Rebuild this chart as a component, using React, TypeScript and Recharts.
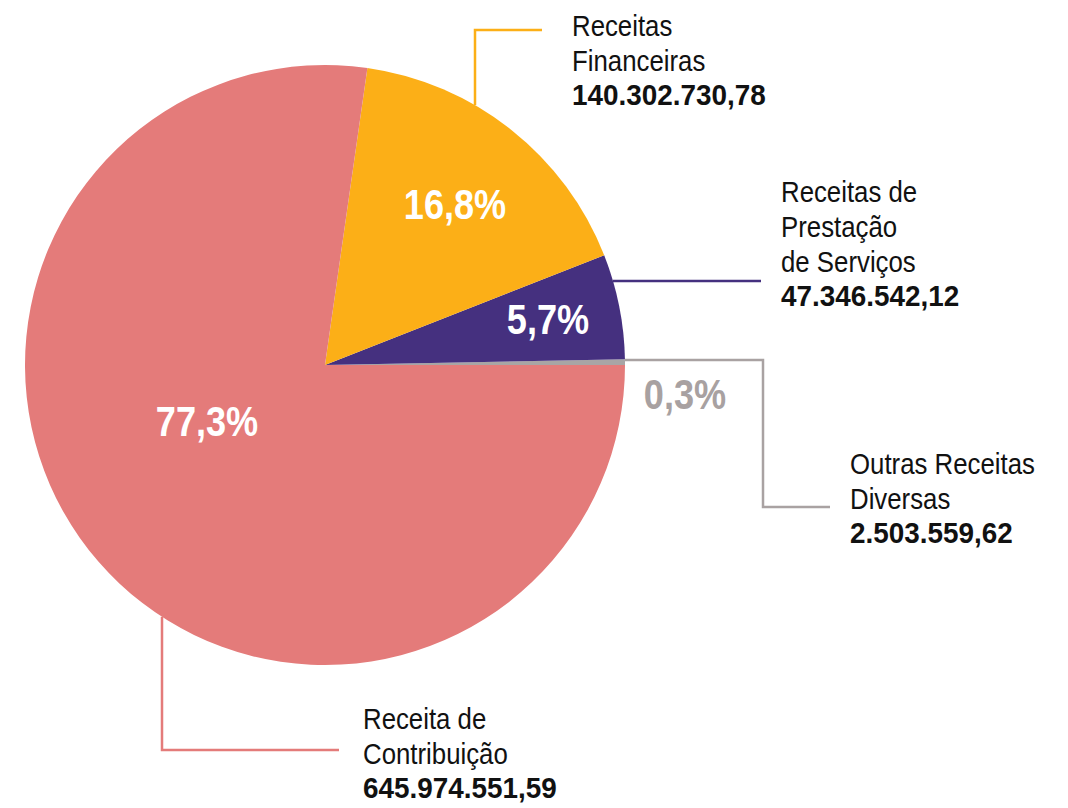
import { PieChart, Pie, Cell } from "recharts";

const names = [
  "Outras Receitas Diversas",
  "Receitas de Prestação de Serviços",
  "Receitas Financeiras",
  "Receita de Contribuição",
];
const values = [2503559.62, 47346542.12, 140302730.78, 645974551.59];
const colors = ["#A8A5A5", "#45307F", "#FCAF17", "#E47B7A"];
const nameLines = [
  ["Outras Receitas", "Diversas"],
  ["Receitas de", "Prestação", "de Serviços"],
  ["Receitas", "Financeiras"],
  ["Receita de", "Contribuição"],
];

const data = names.map((name, i) => ({ name, value: values[i] }));
const total = values.reduce((a, b) => a + b, 0);

const FONT = "'Liberation Sans', Arial, sans-serif";
const SQUEEZE = 0.86;
const SQUEEZE_BOLD = 0.93;

function money(v: number) {
  const [int, dec] = v.toFixed(2).split(".");
  return int.replace(/\B(?=(\d{3})+(?!\d))/g, ".") + "," + dec;
}

function pct(v: number) {
  return ((v / total) * 100).toFixed(1).replace(".", ",") + "%";
}

// label placement, relative to the pie centre
const pctPos = [
  { dx: 360, dy: 30, fill: "#A8A1A1" },
  { dx: 223, dy: -45, fill: "#fff" },
  { dx: 130, dy: -160, fill: "#fff" },
  { dx: -118, dy: 57, fill: "#fff" },
];

function leader(i: number, cx: number, cy: number, r: number) {
  if (i === 0) {
    const y = cy - 5;
    const x0 = cx + Math.sqrt(r * r - 25);
    return {
      d: `M${x0},${y}H${cx + 438}V${cy + 142}H${cx + 505}`,
      tx: cx + 525,
      ty: cy + 109,
    };
  }
  if (i === 1) {
    const y = cy - 84;
    const x0 = cx + Math.sqrt(r * r - 84 * 84);
    return { d: `M${x0},${y}H${cx + 436}`, tx: cx + 456, ty: cy - 163 };
  }
  if (i === 2) {
    const x = cx + 150;
    const y0 = cy - Math.sqrt(r * r - 150 * 150);
    return {
      d: `M${x},${y0}V${cy - 335}H${cx + 217}`,
      tx: cx + 247,
      ty: cy - 329,
    };
  }
  const x = cx - 163;
  const y0 = cy + Math.sqrt(r * r - 163 * 163);
  return {
    d: `M${x},${y0}V${cy + 385}H${cx + 14}`,
    tx: cx + 38,
    ty: cy + 364,
  };
}

function renderLabel(props: any) {
  const { cx, cy, outerRadius, index, value } = props;
  const l = leader(index, cx, cy, outerRadius);
  const p = pctPos[index];
  const lines = nameLines[index];
  const numY = l.ty + (lines.length - 1) * 35 + 34;
  return (
    <g key={"lbl" + index}>
      <path d={l.d} fill="none" stroke={index === 0 ? "#A9A2A2" : colors[index]} strokeWidth={2.5} />
      <g transform={`translate(${cx + p.dx},${cy + p.dy}) scale(${SQUEEZE},1)`}>
        <text
          x={0}
          y={0}
          fill={p.fill}
          textAnchor="middle"
          dominantBaseline="central"
          fontFamily={FONT}
          fontWeight="bold"
          fontSize={42}
        >
          {pct(value)}
        </text>
      </g>
      <g transform={`translate(${l.tx},${l.ty}) scale(${SQUEEZE},1)`}>
        <text x={0} y={0} fill="#111" fontFamily={FONT} fontSize={30}>
          {lines.map((t, k) => (
            <tspan key={k} x={0} dy={k === 0 ? 0 : 35}>
              {t}
            </tspan>
          ))}
        </text>
      </g>
      <g transform={`translate(${l.tx},${numY}) scale(${SQUEEZE_BOLD},1)`}>
        <text x={0} y={0} fill="#111" fontFamily={FONT} fontSize={30} fontWeight="bold">
          {money(value)}
        </text>
      </g>
    </g>
  );
}

export default function App() {
  return (
    <div
      style={{
        position: "absolute",
        left: 0,
        top: 0,
        width: 1068,
        height: 808,
        background: "#fff",
      }}
    >
      <PieChart
        width={1068}
        height={808}
        margin={{ top: 0, right: 0, bottom: 0, left: 0 }}
      >
        <Pie
          data={data}
          dataKey="value"
          nameKey="name"
          cx={325}
          cy={365}
          outerRadius={300}
          startAngle={0}
          endAngle={360}
          stroke="none"
          label={renderLabel}
          labelLine={false}
          isAnimationActive={false}
        >
          {data.map((d, i) => (
            <Cell key={d.name} fill={colors[i]} />
          ))}
        </Pie>
      </PieChart>
    </div>
  );
}
